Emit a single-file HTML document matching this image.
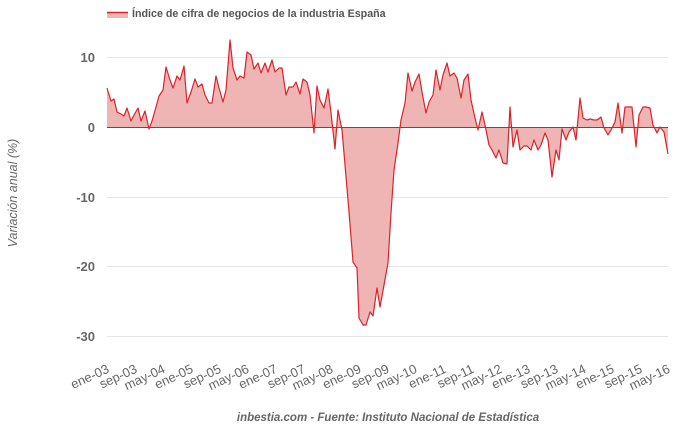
<!DOCTYPE html>
<html><head><meta charset="utf-8"><style>
html,body{margin:0;padding:0;background:#fff;}
svg{display:block;font-family:"Liberation Sans",sans-serif;}
</style></head><body>
<svg width="680" height="428" viewBox="0 0 680 428" xmlns="http://www.w3.org/2000/svg">
<rect width="680" height="428" fill="#fff"/>
<g stroke="#e6e6e6" stroke-width="1">
<line x1="107" x2="668" y1="57.5" y2="57.5"/>
<line x1="107" x2="668" y1="197.5" y2="197.5"/>
<line x1="107" x2="668" y1="266.5" y2="266.5"/>
<line x1="107" x2="668" y1="336.5" y2="336.5"/>
</g>
<g font-size="13" font-weight="bold" fill="#666" text-anchor="end">
<text x="95" y="62">10</text>
<text x="95" y="132">0</text>
<text x="95" y="202">-10</text>
<text x="95" y="271">-20</text>
<text x="95" y="341">-30</text>
</g>
<text transform="translate(17,193) rotate(-90)" text-anchor="middle" font-size="12.5" font-style="italic" fill="#666">Variación anual (%)</text>
<polygon fill="#efb5b5" stroke="none" points="107,127 107,88 111,101 114,99 117,112 121,114 124,116 127,108 131,121 134,115 138,108 141,121 145,111 149,129 152,121 156,107 159,96 163,90 166,67 170,80 173,88 177,76 180,80 184,66 187,103 191,92 195,79 198,87 202,84 205,95 209,103 212,103 216,76 219,88 223,102 226,90 230,40 233,68 237,80 240,76 244,78 247,52 251,55 254,69 258,63 261,73 265,63 268,72 272,60 275,72 279,68 282,68 286,95 289,87 293,87 296,82 300,94 303,79 307,82 310,95 314,133 317,86 320,100 324,108 328,89 331,113 335,149 338,110 342,130 345,165 349,212 353,262 357,268 359,318 363,325 366,325 370,312 373,316 377,288 380,307 384,285 388,263 391,213 394,170 398,143 401,120 405,103 408,73 412,91 415,82 419,74 422,92 426,113 429,102 433,95 436,70 440,90 443,75 447,63 450,76 454,73 457,78 461,98 464,80 468,74 471,100 475,118 478,130 482,112 485,125 489,145 492,150 496,158 499,150 503,163 507,164 510,107 513,147 517,130 520,150 524,146 527,146 531,150 534,140 538,150 541,145 545,133 548,140 552,177 556,150 559,160 562,129 566,140 569,132 573,127 576,140 580,98 583,118 587,120 590,119 594,120 597,120 601,117 604,128 608,135 611,130 615,122 618,103 622,133 625,107 629,107 632,107 636,147 639,115 643,107 646,107 650,108 653,125 657,133 660,127 664,132 668,154 668,127"/>
<line x1="107" x2="668" y1="127.5" y2="127.5" stroke="#555" stroke-width="1"/>
<polyline fill="none" stroke="#d9232b" stroke-width="1.2" stroke-linejoin="round" points="107,88 111,101 114,99 117,112 121,114 124,116 127,108 131,121 134,115 138,108 141,121 145,111 149,129 152,121 156,107 159,96 163,90 166,67 170,80 173,88 177,76 180,80 184,66 187,103 191,92 195,79 198,87 202,84 205,95 209,103 212,103 216,76 219,88 223,102 226,90 230,40 233,68 237,80 240,76 244,78 247,52 251,55 254,69 258,63 261,73 265,63 268,72 272,60 275,72 279,68 282,68 286,95 289,87 293,87 296,82 300,94 303,79 307,82 310,95 314,133 317,86 320,100 324,108 328,89 331,113 335,149 338,110 342,130 345,165 349,212 353,262 357,268 359,318 363,325 366,325 370,312 373,316 377,288 380,307 384,285 388,263 391,213 394,170 398,143 401,120 405,103 408,73 412,91 415,82 419,74 422,92 426,113 429,102 433,95 436,70 440,90 443,75 447,63 450,76 454,73 457,78 461,98 464,80 468,74 471,100 475,118 478,130 482,112 485,125 489,145 492,150 496,158 499,150 503,163 507,164 510,107 513,147 517,130 520,150 524,146 527,146 531,150 534,140 538,150 541,145 545,133 548,140 552,177 556,150 559,160 562,129 566,140 569,132 573,127 576,140 580,98 583,118 587,120 590,119 594,120 597,120 601,117 604,128 608,135 611,130 615,122 618,103 622,133 625,107 629,107 632,107 636,147 639,115 643,107 646,107 650,108 653,125 657,133 660,127 664,132 668,154"/>
<g font-size="13" fill="#666" text-anchor="end">
<text transform="translate(110,372) rotate(-25)">ene-03</text>
<text transform="translate(138,372) rotate(-25)">sep-03</text>
<text transform="translate(166,372) rotate(-25)">may-04</text>
<text transform="translate(194,372) rotate(-25)">ene-05</text>
<text transform="translate(222,372) rotate(-25)">sep-05</text>
<text transform="translate(250,372) rotate(-25)">may-06</text>
<text transform="translate(278,372) rotate(-25)">ene-07</text>
<text transform="translate(306,372) rotate(-25)">sep-07</text>
<text transform="translate(334,372) rotate(-25)">may-08</text>
<text transform="translate(362,372) rotate(-25)">ene-09</text>
<text transform="translate(390,372) rotate(-25)">sep-09</text>
<text transform="translate(418,372) rotate(-25)">may-10</text>
<text transform="translate(447,372) rotate(-25)">ene-11</text>
<text transform="translate(475,372) rotate(-25)">sep-11</text>
<text transform="translate(503,372) rotate(-25)">may-12</text>
<text transform="translate(531,372) rotate(-25)">ene-13</text>
<text transform="translate(559,372) rotate(-25)">sep-13</text>
<text transform="translate(587,372) rotate(-25)">may-14</text>
<text transform="translate(615,372) rotate(-25)">ene-15</text>
<text transform="translate(643,372) rotate(-25)">sep-15</text>
<text transform="translate(671,372) rotate(-25)">may-16</text>
</g>
<text x="388" y="421" text-anchor="middle" font-size="11.5" font-weight="bold" font-style="italic" fill="#666">inbestia.com - Fuente: Instituto Nacional de Estadística</text>
<rect x="107" y="12" width="21" height="6" fill="#efb5b5"/>
<line x1="107" x2="128" y1="12.5" y2="12.5" stroke="#d9232b" stroke-width="1.5"/>
<text x="132" y="17" font-size="10.7" font-weight="bold" fill="#555">Índice de cifra de negocios de la industria España</text>
</svg>
</body></html>
